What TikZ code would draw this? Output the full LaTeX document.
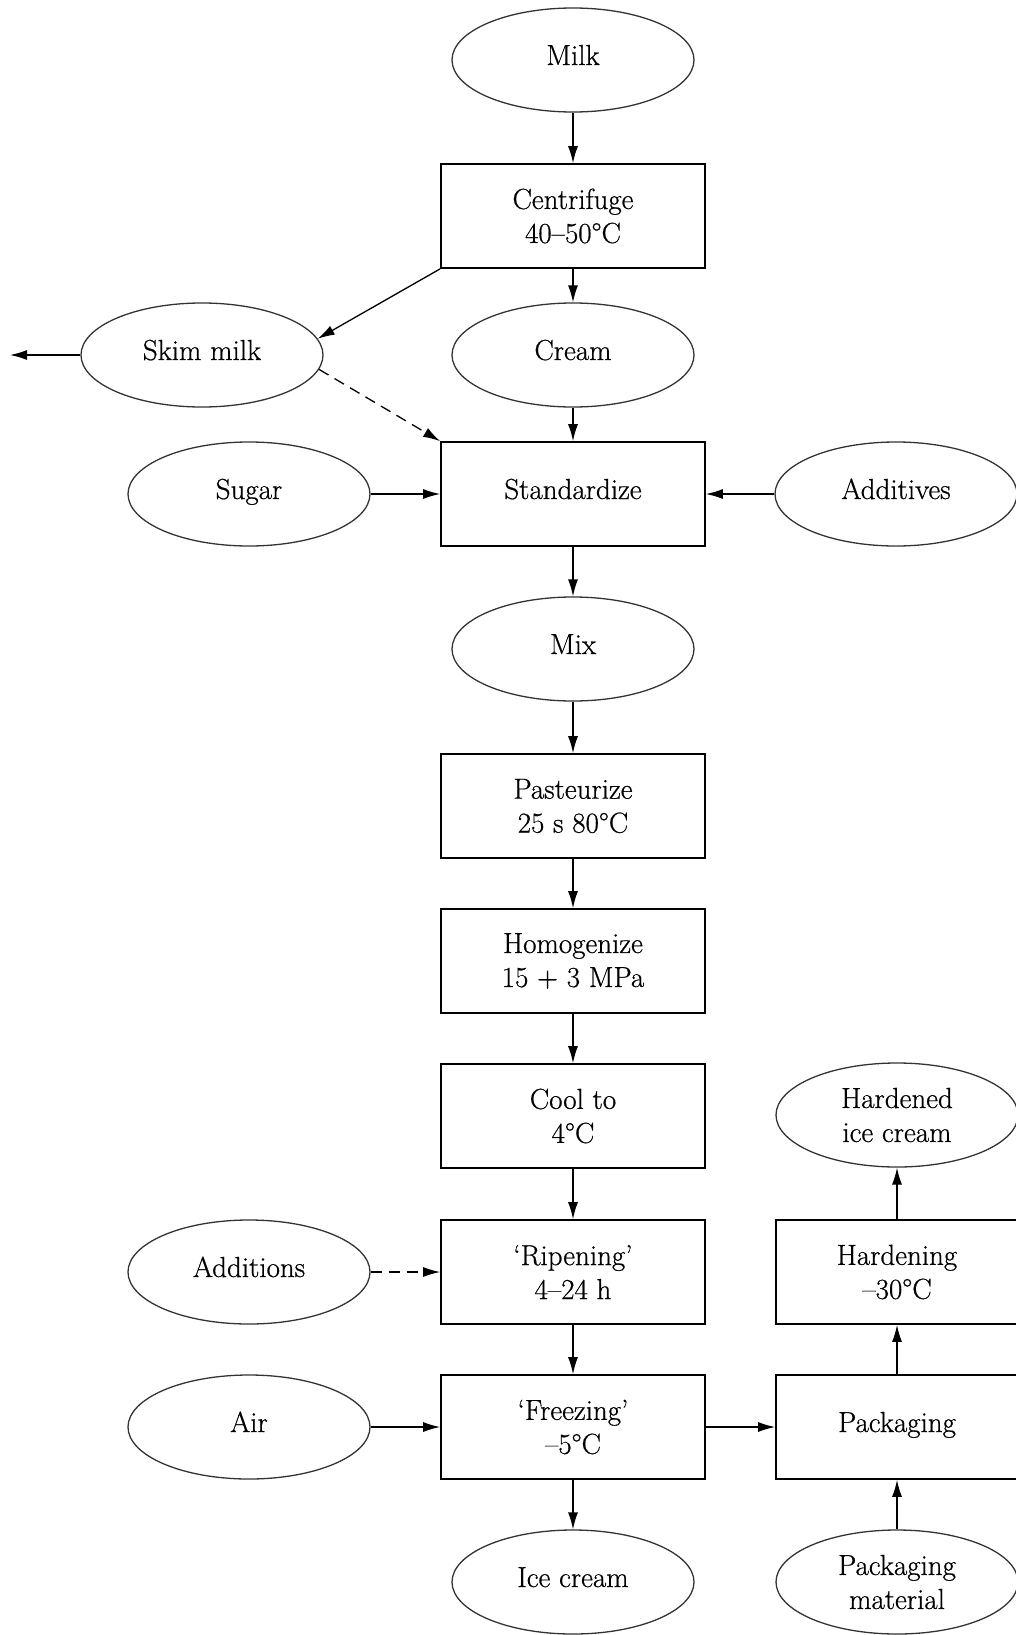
\documentclass[tikz,border=0pt]{standalone}
\usepackage{fontspec}
\setmainfont{Latin Modern Roman}[FakeBold=0.6]
\usetikzlibrary{shapes.geometric,arrows.meta}
\begin{document}
\begin{tikzpicture}[x=1pt,y=-1pt,
  every node/.style={font=\fontsize{29}{34}\selectfont, inner sep=0pt, align=center},
  oval/.style={ellipse, draw=black!80, line width=1.3pt, minimum width=242pt, minimum height=104pt},
  boxx/.style={rectangle, draw, line width=1.7pt, minimum width=264pt, minimum height=104pt},
  rbox/.style={boxx, minimum width=242pt},
  one/.style={text height=20pt, text depth=10pt},
  arr/.style={-{Latex[length=17pt,width=10pt]}, line width=1.3pt},
  darr/.style={arr, dash pattern=on 11pt off 7pt}]
\path[use as bounding box, clip] (0,0) rectangle (1016,1635);
\node[oval,one] (milk) at (573,60) {Milk};
\node[boxx] (cent) at (573,216) {Centrifuge\\40–50°C};
\node[oval,one] (skim) at (202,355) {Skim milk};
\node[oval,one] (cream) at (573,355) {Cream};
\node[boxx,one] (std) at (573,494) {Standardize};
\node[oval,one] (sugar) at (249,494) {Sugar};
\node[oval,one] (addv) at (896,494) {Additives};
\node[oval,one] (mix) at (573,649) {Mix};
\node[boxx] (past) at (573,806) {Pasteurize\\25 s 80°C};
\node[boxx] (homo) at (573,961) {Homogenize\\15 + 3 MPa};
\node[boxx] (cool) at (573,1116) {Cool to\\4°C};
\node[boxx] (ripe) at (573,1272) {‘Ripening’\\4–24 h};
\node[boxx] (frz) at (573,1427) {‘Freezing’\\–5°C};
\node[oval,one] (ice) at (573,1582) {Ice cream};
\node[oval,one] (addn) at (249,1272) {Additions};
\node[oval,one] (air) at (249,1427) {Air};
\node[rbox,one] (pack) at (897,1427) {Packaging};
\node[rbox] (hard) at (897,1272) {Hardening\\–30°C};
\node[oval] (hic) at (897,1115) {Hardened\\ice cream};
\node[oval] (pm) at (897,1582) {Packaging\\material};
\coordinate (out) at (10,355);
\draw[arr] (milk) -- (cent);
\draw[arr] (cent) -- (cream);
\draw[arr] (cent.south west) -- (skim.8);
\draw[arr] (skim.west) -- (out);
\draw[darr] (skim.-7) -- (std.north west);
\draw[arr] (cream) -- (std);
\draw[arr] (sugar) -- (std);
\draw[arr] (addv) -- (std);
\draw[arr] (std) -- (mix);
\draw[arr] (mix) -- (past);
\draw[arr] (past) -- (homo);
\draw[arr] (homo) -- (cool);
\draw[arr] (cool) -- (ripe);
\draw[arr] (ripe) -- (frz);
\draw[arr] (frz) -- (ice);
\draw[darr] (addn) -- (ripe);
\draw[arr] (air) -- (frz);
\draw[arr] (frz) -- (pack);
\draw[arr] (pm) -- (pack);
\draw[arr] (pack) -- (hard);
\draw[arr] (hard) -- (hic);
\end{tikzpicture}
\end{document}
